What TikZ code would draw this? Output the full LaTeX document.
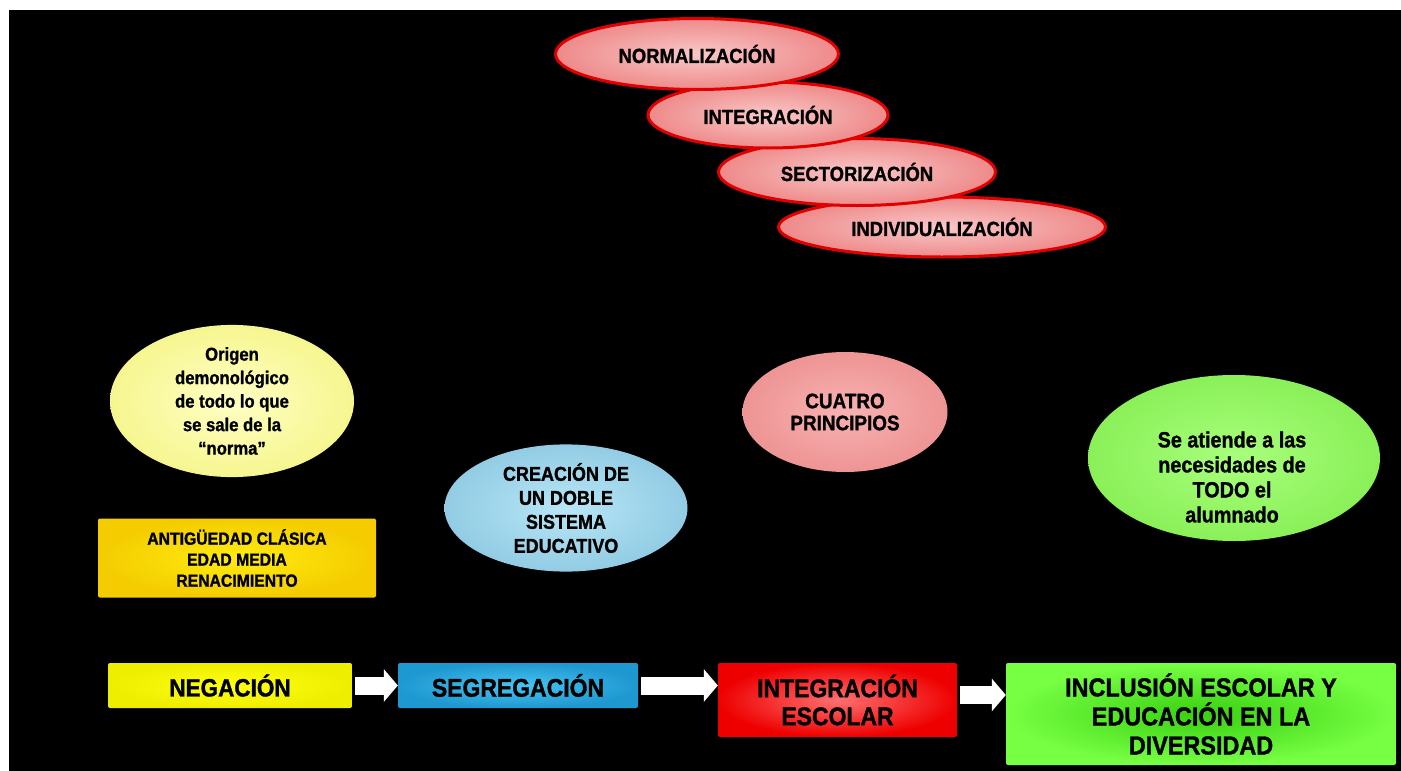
\documentclass[tikz,border=0pt]{standalone}
\usepackage{fontspec}
\setmainfont{Liberation Sans}[BoldFeatures={FakeBold=1.2,FakeStretch=0.9}]
\usetikzlibrary{shapes.geometric,arrows.meta,calc}
\definecolor{pinkin}{HTML}{FAC8C8}
\definecolor{pinkout}{HTML}{EE8A8A}
\definecolor{redrim}{HTML}{E00000}
\definecolor{yelin}{HTML}{FFFFC4}
\definecolor{yelout}{HTML}{F6F690}
\definecolor{bluein}{HTML}{B8E6F6}
\definecolor{blueout}{HTML}{92CCE4}
\definecolor{cuain}{HTML}{F8B2B2}
\definecolor{cuaout}{HTML}{EE9494}
\definecolor{grnin}{HTML}{A8FF7C}
\definecolor{grnout}{HTML}{8AF058}
\definecolor{goldin}{HTML}{FFEC10}
\definecolor{goldout}{HTML}{F4CC00}
\definecolor{negin}{HTML}{FFFF10}
\definecolor{negout}{HTML}{EEEE00}
\definecolor{segin}{HTML}{48C4F2}
\definecolor{segout}{HTML}{1E98D0}
\definecolor{redin}{HTML}{FF7070}
\definecolor{redout}{HTML}{EE0000}
\definecolor{incin}{HTML}{38D010}
\definecolor{incout}{HTML}{77FF44}
\begin{document}
\begin{tikzpicture}[x=1pt,y=-1pt,
  topell/.style={ellipse, draw=redrim, line width=3pt, inner color=pinkin, outer color=pinkout,
    inner sep=0pt, text=black, font=\bfseries\fontsize{20.5}{22}\selectfont},
  softell/.style={ellipse, inner sep=0pt, text=black, align=center},
  box/.style={rectangle, rounded corners=2pt, inner sep=0pt, text=black, align=center},
  flow/.style={draw=white, line width=18pt, -{Triangle[width=32pt,length=14pt]}}
]
\useasboundingbox (0,0) rectangle (1401,771);
\fill[white] (-5,-5) rectangle (1410,780);
\fill[black] (9,10) rectangle (1410,780);

% top principle ellipses
\node[topell, minimum width=327pt, minimum height=60pt] (indiv) at (942,227) {INDIVIDUALIZACIÓN};
\node[topell, minimum width=277pt, minimum height=67pt] (sector) at (857,172) {SECTORIZACIÓN};
\node[topell, minimum width=240pt, minimum height=66pt] (integ) at (768,115) {INTEGRACIÓN};
\node[topell, minimum width=283pt, minimum height=71pt] (normal) at (697,54) {NORMALIZACIÓN};

% middle ellipses
\node[softell, inner color=yelin, outer color=yelout, minimum width=244pt, minimum height=122pt,
  font=\bfseries\fontsize{18.5}{23.5}\selectfont] (origen) at (232,401)
  {Origen\\demonológico\\de  todo lo que\\se sale de la\\“norma”};
\node[softell, inner color=bluein, outer color=blueout, minimum width=243pt, minimum height=112pt,
  font=\bfseries\fontsize{20}{24}\selectfont] (doble) at (566,508)
  {CREACIÓN DE\\UN DOBLE\\SISTEMA\\EDUCATIVO};
\node[softell, inner color=cuain, outer color=cuaout, minimum width=205pt, minimum height=120pt,
  font=\bfseries\fontsize{21}{22}\selectfont] (cuatro) at (845,412)
  {CUATRO\\PRINCIPIOS};
\node[softell, inner color=grnin, outer color=grnout, minimum width=292pt, minimum height=166pt] (todos) at (1234,458) {};
\node[align=center, text=black, font=\bfseries\fontsize{22}{25}\selectfont] (todostxt) at (1232,477)
  {Se atiende  a las\\necesidades de\\TODO el\\alumnado};

% era box
\node[box, inner color=goldin, outer color=goldout, minimum width=278pt, minimum height=79pt,
  font=\bfseries\fontsize{17.5}{21}\selectfont] (eras) at (237,558)
  {ANTIGÜEDAD CLÁSICA\\EDAD MEDIA\\RENACIMIENTO};

% stage boxes
\node[box, inner color=negin, outer color=negout, minimum width=244pt, minimum height=45pt,
  font=\bfseries\fontsize{25}{28}\selectfont] (neg) at (230,685.5) {NEGACIÓN};
\node[box, inner color=segin, outer color=segout, minimum width=240pt, minimum height=45pt,
  font=\bfseries\fontsize{25.5}{28}\selectfont] (seg) at (518,685.5) {SEGREGACIÓN};
\node[box, inner color=redin, outer color=redout, minimum width=239pt, minimum height=74pt,
  font=\bfseries\fontsize{25.5}{28}\selectfont] (intesc) at (837.5,700) {INTEGRACIÓN\\ESCOLAR};
\node[box, inner color=incin, outer color=incout, minimum width=390pt, minimum height=102pt,
  font=\bfseries\fontsize{26}{29}\selectfont] (incl) at (1201,714)
  {INCLUSIÓN ESCOLAR Y\\EDUCACIÓN EN LA\\DIVERSIDAD};

% flow arrows
\draw[flow] ([xshift=3pt]neg.east) -- (seg.west);
\draw[flow] ([xshift=3pt]seg.east) -- (intesc.west |- seg.east);
\draw[flow] ([xshift=3pt,yshift=5pt]intesc.east) -- ([yshift=5pt]intesc.east -| incl.west);
\end{tikzpicture}
\end{document}
